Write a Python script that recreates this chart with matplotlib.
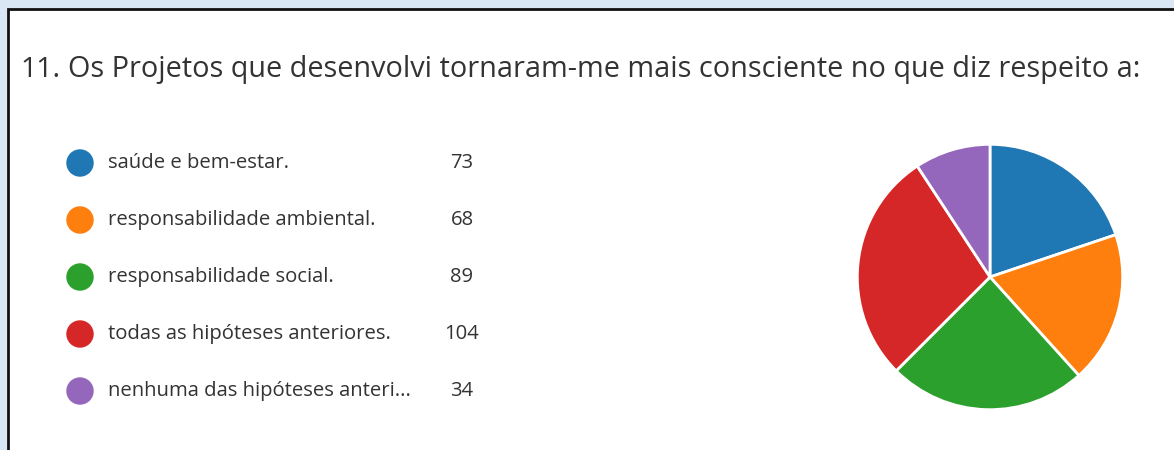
import matplotlib.pyplot as plt
from matplotlib.patches import Rectangle

# dados da pergunta 11
categorias = ["saúde e bem-estar.", "responsabilidade ambiental.",
              "responsabilidade social.", "todas as hipóteses anteriores.",
              "nenhuma das hipóteses anteri..."]
respostas = [73, 68, 89, 104, 34]
cores = ["#1f77b4", "#ff7f0e", "#2ca02c", "#d62728", "#9467bd"]
titulo = "Os Projetos que desenvolvi tornaram-me mais consciente no que diz respeito a:"

plt.rcParams['font.family'] = ['Open Sans', 'DejaVu Sans']

W, H = 1174, 450
fig = plt.figure(figsize=(W / 100, H / 100), dpi=100)
fig.patch.set_facecolor("#d9e6f3")

# camada de fundo em pixels
bg = fig.add_axes([0, 0, 1, 1])
bg.set_xlim(0, W)
bg.set_ylim(H, 0)
bg.axis("off")
bg.add_patch(Rectangle((8, 9), W + 20, H + 20, facecolor="white",
                       edgecolor="#111111", linewidth=2))

bg.text(20, 70, "11.", fontsize=20.5, color="#333333", va="center")
bg.text(68, 70, titulo, fontsize=20.8, color="#333333", va="center")

for i, (cat, n, c) in enumerate(zip(categorias, respostas, cores)):
    y = 163 + i * 57
    bg.scatter(80, y, s=390, color=c, edgecolors="none")
    bg.text(108, y, cat, fontsize=14.6, color="#333333", va="center")
    bg.text(462, y, str(n), fontsize=14.6, color="#333333", va="center", ha="center")

# pizza
r = 134
cx, cy = 990, 277
ax = fig.add_axes([(cx - r) / W, 1 - (cy + r) / H, 2 * r / W, 2 * r / H])
ax.pie(respostas, colors=cores, startangle=90, counterclock=False,
       wedgeprops=dict(edgecolor="white", linewidth=2))
ax.set_aspect("auto")
ax.set_xlim(-1.01, 1.01)
ax.set_ylim(-1.01, 1.01)

fig.savefig("out.png", dpi=100, facecolor=fig.get_facecolor())
